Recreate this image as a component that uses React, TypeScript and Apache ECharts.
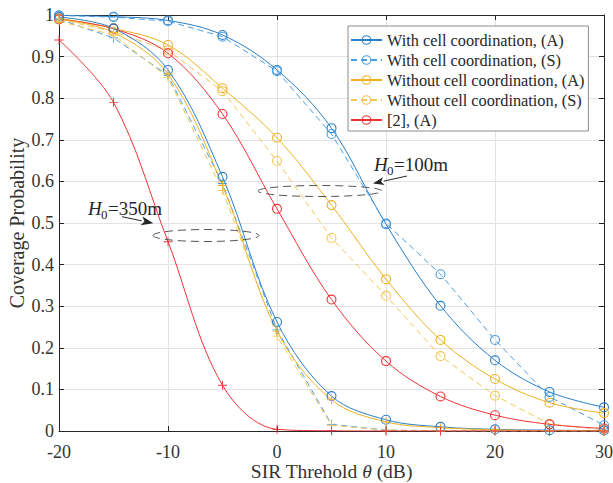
import React, { useEffect, useRef } from "react";
import * as echarts from "echarts";

const xValues = [-20, -15, -10, -5, 0, 5, 10, 15, 20, 25, 30];

// H0 = 100 m
const withA100 = [0.999, 0.996, 0.987, 0.952, 0.868, 0.728, 0.497, 0.301, 0.17, 0.094, 0.057];
const withS100 = [0.999, 0.995, 0.985, 0.948, 0.865, 0.714, 0.499, 0.377, 0.219, 0.082, 0.014];
const withoutA100 = [0.992, 0.968, 0.928, 0.824, 0.705, 0.543, 0.365, 0.219, 0.125, 0.068, 0.043];
const withoutS100 = [0.99, 0.96, 0.915, 0.817, 0.649, 0.464, 0.325, 0.18, 0.085, 0.017, 0.003];
const ref2A100 = [0.99, 0.967, 0.908, 0.762, 0.534, 0.316, 0.168, 0.083, 0.038, 0.016, 0.006];

// H0 = 350 m
const withA350 = [0.995, 0.968, 0.868, 0.611, 0.262, 0.084, 0.027, 0.01, 0.004, 0.002, 0.001];
const withS350 = [0.99, 0.945, 0.855, 0.595, 0.243, 0.016, 0.002, 0.001, 0, 0, 0];
const withoutA350 = [0.99, 0.958, 0.858, 0.59, 0.24, 0.075, 0.022, 0.008, 0.003, 0.001, 0.0005];
const withoutS350 = [0.985, 0.952, 0.85, 0.578, 0.228, 0.014, 0.002, 0, 0, 0, 0];
const ref2A350 = [0.94, 0.79, 0.455, 0.11, 0.004, 0.0005, 0, 0, 0, 0, 0];

const legendNames = [
  "With cell coordination, (A)",
  "With cell coordination, (S)",
  "Without cell coordination, (A)",
  "Without cell coordination, (S)",
  "[2], (A)",
];

const FONT = "Liberation Serif";
const BLUE_A = "#2a7fc8";
const BLUE_S = "#4a9edf";
const YEL_A = "#edb120";
const YEL_S = "#f3c552";
const RED = "#ee3338";
const PLUS = "path://M4.5,0H5.5V10H4.5ZM0,4.5H10V5.5H0Z";
const RING = "path://M5,0A5,5,0,1,1,5,10A5,5,0,1,1,5,0ZM5,1.1A3.9,3.9,0,1,0,5,8.9A3.9,3.9,0,1,0,5,1.1Z";

const pair = (ys: number[]) => xValues.map((x, i) => [x, ys[i]]);

function mkSeries(
  name: string,
  ys: number[],
  color: string,
  dashed: boolean,
  marker: "o" | "+",
  smooth: boolean
) {
  return {
    name,
    type: "line",
    data: pair(ys),
    smooth: smooth ? 0.35 : false,
    showAllSymbol: true,
    symbol: marker === "o" ? RING : PLUS,
    symbolSize: marker === "o" ? 10 : 9,
    itemStyle: { color, borderWidth: 0 },
    lineStyle: { color, width: 1, type: dashed ? [6, 4] : "solid" },
    emphasis: { disabled: true },
  };
}

function arrowHead(tipX: number, tipY: number, fromX: number, fromY: number, len: number, hw: number) {
  const dx = tipX - fromX;
  const dy = tipY - fromY;
  const l = Math.sqrt(dx * dx + dy * dy);
  const ux = dx / l;
  const uy = dy / l;
  const bx = tipX - ux * len;
  const by = tipY - uy * len;
  const px = -uy;
  const py = ux;
  return {
    base: [bx, by],
    points: [
      [tipX, tipY],
      [bx + px * hw, by + py * hw],
      [tipX - ux * len * 0.75, tipY - uy * len * 0.75],
      [bx - px * hw, by - py * hw],
    ],
  };
}

export default function App() {
  const ref = useRef<HTMLDivElement>(null);
  useEffect(() => {
    document.body.style.margin = "0";
    if (!ref.current) return;
    const chart = echarts.init(ref.current, undefined, { renderer: "svg" });

    const a1 = arrowHead(373, 183.5, 407, 176, 11, 4);
    const a2 = arrowHead(153.3, 223.3, 122, 216.7, 12, 4.5);

    const axisCommon = {
      type: "value",
      axisLine: { show: true, onZero: false, lineStyle: { color: "#262626", width: 1 } },
      axisTick: { show: true, inside: true, length: 5, lineStyle: { color: "#262626" } },
    };

    chart.setOption({
      animation: false,
      backgroundColor: "#ffffff",
      grid: { left: 59, right: 9, top: 15, bottom: 52, containLabel: false, outerBoundsMode: "none" },
      legend: {
        data: legendNames,
        orient: "vertical",
        left: 348,
        top: 26,
        itemWidth: 31,
        itemHeight: 12,
        itemGap: 0,
        padding: [4, 4, 1, 2],
        backgroundColor: "#ffffff",
        borderColor: "#8c8c8c",
        borderWidth: 1,
        borderRadius: 0,
        selectedMode: false,
        textStyle: { fontFamily: FONT, fontSize: 16.3, color: "#262626", lineHeight: 20 },
      },
      xAxis: [
        {
          ...axisCommon,
          position: "bottom",
          min: -20,
          max: 30,
          interval: 10,
          axisLabel: { fontFamily: FONT, fontSize: 18, lineHeight: 18, color: "#333", margin: 12 },
          splitLine: { show: true, lineStyle: { color: "#e3e3e3", width: 1 } },
          name: "SIR Threhold {i|θ} (dB)",
          nameLocation: "middle",
          nameGap: 31,
          nameMoveOverlap: false,
          nameTextStyle: {
            fontFamily: FONT,
            fontSize: 19.5,
            lineHeight: 19,
            color: "#333",
            rich: { i: { fontFamily: FONT, fontSize: 19.5, lineHeight: 19, fontStyle: "italic", color: "#333" } },
          },
        },
        {
          ...axisCommon,
          position: "top",
          min: -20,
          max: 30,
          interval: 10,
          axisLabel: { show: false },
          splitLine: { show: false },
        },
      ],
      yAxis: [
        {
          ...axisCommon,
          position: "left",
          min: 0,
          max: 1,
          interval: 0.1,
          axisLabel: { fontFamily: FONT, fontSize: 18, color: "#333", margin: 5 },
          splitLine: { show: true, lineStyle: { color: "#e3e3e3", width: 1 } },
          name: "Coverage Probability",
          nameLocation: "middle",
          nameGap: 32,
          nameMoveOverlap: false,
          nameTextStyle: { fontFamily: FONT, fontSize: 20, color: "#333" },
        },
        {
          ...axisCommon,
          position: "right",
          min: 0,
          max: 1,
          interval: 0.1,
          axisLabel: { show: false },
          splitLine: { show: false },
        },
      ],
      series: [
        mkSeries(legendNames[0], withA100, BLUE_A, false, "o", true),
        mkSeries(legendNames[1], withS100, BLUE_S, true, "o", false),
        mkSeries(legendNames[2], withoutA100, YEL_A, false, "o", true),
        mkSeries(legendNames[3], withoutS100, YEL_S, true, "o", false),
        mkSeries(legendNames[4], ref2A100, RED, false, "o", true),
        mkSeries("With cell coordination, (A) 350m", withA350, BLUE_A, false, "o", true),
        mkSeries("With cell coordination, (S) 350m", withS350, BLUE_S, true, "+", false),
        mkSeries("Without cell coordination, (A) 350m", withoutA350, YEL_A, false, "+", true),
        mkSeries("Without cell coordination, (S) 350m", withoutS350, YEL_S, true, "+", false),
        mkSeries("[2], (A) 350m", ref2A350, RED, false, "+", true),
      ],
      graphic: [
        {
          type: "ellipse",
          shape: { cx: 320, cy: 191, rx: 62, ry: 5.5 },
          style: { fill: "none", stroke: "#555", lineWidth: 1, lineDash: [8, 5] },
          z: 100,
        },
        {
          type: "ellipse",
          shape: { cx: 206, cy: 235.5, rx: 53, ry: 6 },
          style: { fill: "none", stroke: "#555", lineWidth: 1, lineDash: [8, 5] },
          z: 100,
        },
        {
          type: "line",
          shape: { x1: 407, y1: 176, x2: a1.base[0], y2: a1.base[1] },
          style: { stroke: "#262626", lineWidth: 1 },
          z: 100,
        },
        { type: "polygon", shape: { points: a1.points }, style: { fill: "#262626" }, z: 100 },
        {
          type: "line",
          shape: { x1: 122, y1: 216.7, x2: a2.base[0], y2: a2.base[1] },
          style: { stroke: "#262626", lineWidth: 1 },
          z: 100,
        },
        { type: "polygon", shape: { points: a2.points }, style: { fill: "#262626" }, z: 100 },
        {
          type: "text",
          x: 374,
          y: 164,
          style: { text: "H", font: `italic 19px ${FONT}`, fill: "#262626", verticalAlign: "middle" },
          z: 100,
        },
        {
          type: "text",
          x: 387,
          y: 170,
          style: { text: "0", font: `13px ${FONT}`, fill: "#262626", verticalAlign: "middle" },
          z: 100,
        },
        {
          type: "text",
          x: 394,
          y: 164,
          style: { text: "=100m", font: `19px ${FONT}`, fill: "#262626", verticalAlign: "middle" },
          z: 100,
        },
        {
          type: "text",
          x: 88,
          y: 208,
          style: { text: "H", font: `italic 19px ${FONT}`, fill: "#262626", verticalAlign: "middle" },
          z: 100,
        },
        {
          type: "text",
          x: 101,
          y: 214,
          style: { text: "0", font: `13px ${FONT}`, fill: "#262626", verticalAlign: "middle" },
          z: 100,
        },
        {
          type: "text",
          x: 108,
          y: 208,
          style: { text: "=350m", font: `19px ${FONT}`, fill: "#262626", verticalAlign: "middle" },
          z: 100,
        },
      ],
    });
    return () => chart.dispose();
  }, []);
  return <div ref={ref} style={{ width: 613, height: 483 }} />;
}
